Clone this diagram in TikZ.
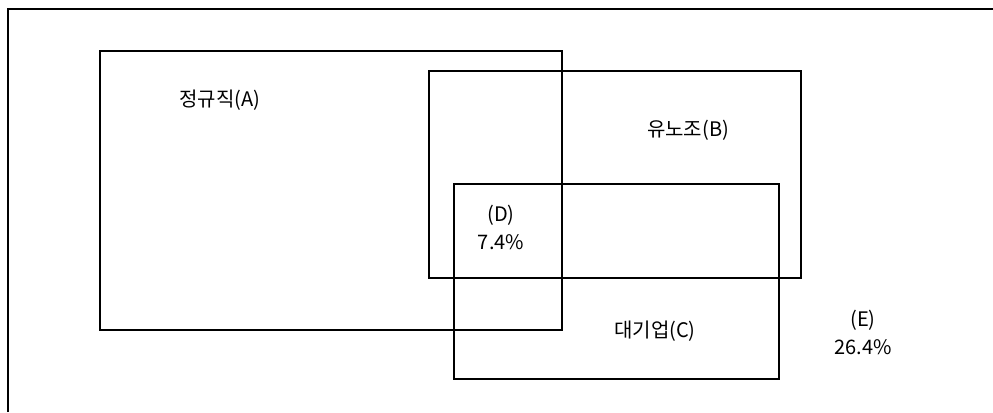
\documentclass[tikz,border=0pt]{standalone}
\usepackage{fontspec}
\setmainfont{Noto Sans CJK KR}
\begin{document}
\begin{tikzpicture}[x=0.75pt,y=-0.75pt,
  setbox/.style={draw=black,line width=1.2pt},
  lbl/.style={font=\fontsize{15}{21}\selectfont,align=center,inner sep=0pt}]
\useasboundingbox (0,0) rectangle (993,412);
\fill[white] (0,0) rectangle (993,412);
\coordinate (fbl) at (8,412);
\coordinate (ftl) at (8,9);
\coordinate (ftr) at (993,9);
\draw[setbox] (fbl) -- (ftl) -- (ftr);
\draw[setbox] (100,51) rectangle (562,330);
\draw[setbox] (429,71) rectangle (801,278);
\draw[setbox] (454,184) rectangle (779,379);
\node[lbl] (a) at (220,100) {정규직(A)};
\node[lbl] (b) at (688,130) {유노조(B)};
\node[lbl] (c) at (655,331) {대기업(C)};
\node[lbl] (d) at (501,227) {(D)\\7.4\%};
\node[lbl] (e) at (863,332) {(E)\\26.4\%};
\end{tikzpicture}
\end{document}
